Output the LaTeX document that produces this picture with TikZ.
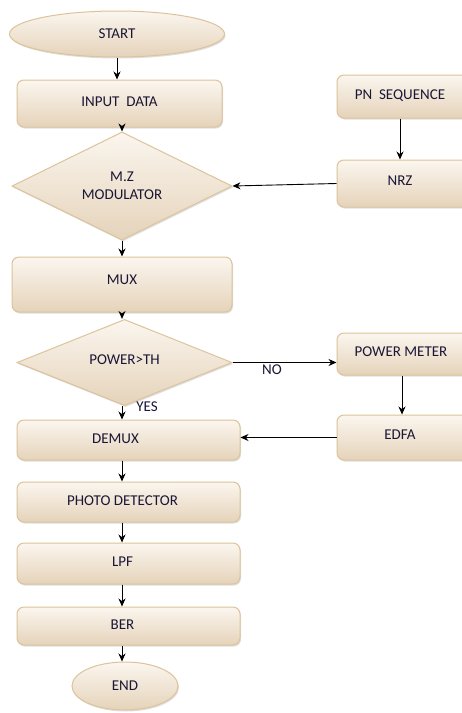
\documentclass[tikz,border=0pt]{standalone}
\usepackage{fontspec}
\setmainfont{Carlito}
\usetikzlibrary{shapes.geometric,arrows.meta,shadows}
\definecolor{boxtop}{HTML}{FBF6EF}
\definecolor{boxbot}{HTML}{E5D3BA}
\definecolor{boxline}{HTML}{DCC39A}
\definecolor{txt}{HTML}{1A1636}
\begin{document}
\begin{tikzpicture}[x=1pt,y=-1pt,
  base/.style={draw=boxline, line width=1pt, top color=boxtop, bottom color=boxbot,
    text=txt, font=\fontsize{15}{18}\selectfont, inner sep=0pt,
    drop shadow={opacity=0.25, shadow xshift=1pt, shadow yshift=-1.5pt}},
  proc/.style={base, rectangle, rounded corners=7pt},
  term/.style={base, ellipse},
  dec/.style={base, diamond, align=center},
  lbl/.style={text=txt, font=\fontsize{15}{18}\selectfont, inner sep=0pt},
  arr/.style={-{Stealth[length=8pt,width=7pt]}, line width=0.9pt, black}]
\useasboundingbox (0,0) rectangle (462,713);
\fill[white] (0,0) rectangle (462,713);

\node[term, minimum width=215pt, minimum height=46pt] (start) at (117,34) {START};
\node[proc, minimum width=205pt, minimum height=47pt] (input) at (119.5,103.5) {\raisebox{3pt}{INPUT\ \ DATA}};
\node[dec, minimum width=220pt, minimum height=88pt] (mz) at (122,186) {M.Z\\MODULATOR};
\node[proc, minimum width=220pt, minimum height=55pt] (mux) at (122,284.5) {\raisebox{9pt}{MUX}};
\node[dec, minimum width=215pt, minimum height=71pt] (pw) at (124.5,362.5) {\raisebox{6pt}{POWER>TH}};
\node[proc, minimum width=133pt, minimum height=43pt] (pn) at (403.5,96.5) {\raisebox{4pt}{\hspace*{-7pt}PN\ \ SEQUENCE}};
\node[proc, minimum width=133pt, minimum height=47pt] (nrz) at (403.5,183.5) {\raisebox{6pt}{\hspace*{-7pt}NRZ}};
\node[proc, minimum width=133pt, minimum height=42pt] (pm) at (403.5,354) {\raisebox{4pt}{\hspace*{-5pt}POWER METER}};
\node[proc, minimum width=133pt, minimum height=45pt] (edfa) at (403.5,437.5) {\raisebox{5pt}{\hspace*{-7pt}EDFA}};
\node[proc, minimum width=223pt, minimum height=40pt] (demux) at (128.5,440) {\raisebox{3pt}{\hspace*{-26pt}DEMUX}};
\node[proc, minimum width=223pt, minimum height=40pt] (photo) at (128.5,502) {\raisebox{3pt}{\hspace*{-12pt}PHOTO DETECTOR}};
\node[proc, minimum width=223pt, minimum height=41pt] (lpf) at (128.5,563.5) {\raisebox{4pt}{\hspace*{-12pt}LPF}};
\node[proc, minimum width=223pt, minimum height=38pt] (ber) at (128.5,626) {\raisebox{3pt}{\hspace*{-12pt}BER}};
\node[term, minimum width=106pt, minimum height=48pt] (end) at (125,686) {END};

\node[lbl] (no) at (272,370) {NO};
\node[lbl] (yes) at (147,407) {YES};

\draw[arr] (start.south) -- (start.south |- input.north);
\draw[arr] ([xshift=2.5pt]input.south) -- ([xshift=2.5pt]input.south |- mz.north);
\draw[arr] (mz.south) -- (mz.south |- mux.north);
\draw[arr] (mux.south) -- (mux.south |- pw.north);
\draw[arr] ([xshift=-3.5pt]pn.south) -- ([xshift=-3.5pt]pn.south |- nrz.north);
\draw[arr] (nrz.west) -- (mz.east);
\draw[arr] (pw.east) -- (pw.east -| pm.west);
\draw[arr] ([xshift=-1.5pt]pm.south) -- ([xshift=-1.5pt]pm.south |- edfa.north);
\draw[arr] (edfa.west) -- (edfa.west -| demux.east);
\draw[arr] ([xshift=-2.5pt]pw.south) -- ([xshift=-2.5pt]pw.south |- demux.north);
\draw[arr] ([xshift=-6.5pt]demux.south) -- ([xshift=-6.5pt]demux.south |- photo.north);
\draw[arr] ([xshift=-6.5pt]photo.south) -- ([xshift=-6.5pt]photo.south |- lpf.north);
\draw[arr] ([xshift=-6.5pt]lpf.south) -- ([xshift=-6.5pt]lpf.south |- ber.north);
\draw[arr] ([xshift=-6.5pt]ber.south) -- ([xshift=-6.5pt]ber.south |- end.north);
\end{tikzpicture}
\end{document}
